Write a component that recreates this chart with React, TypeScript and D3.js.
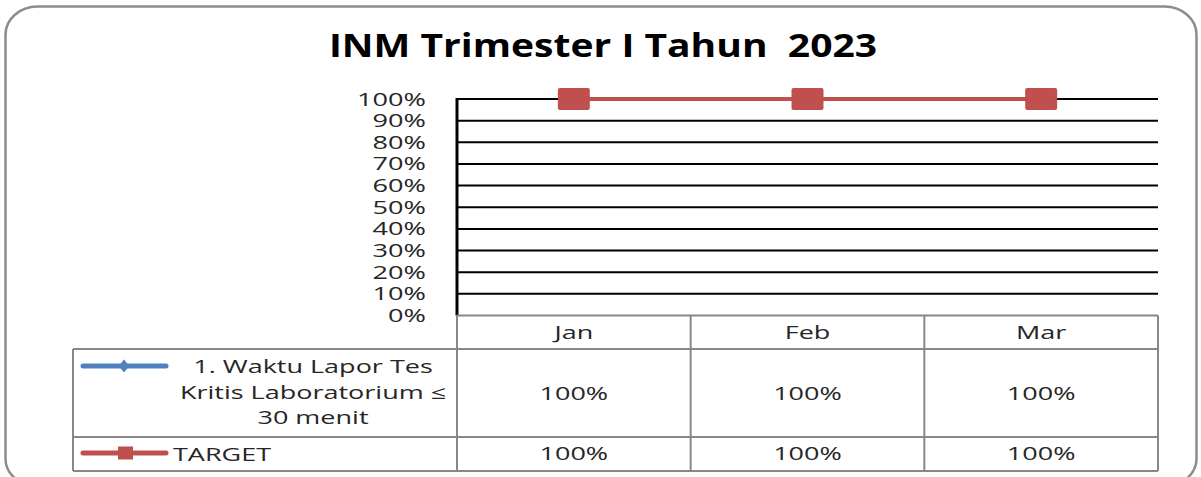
import React from "react";
import * as d3 from "d3";

const categories = ["Jan", "Feb", "Mar"];
const seriesWaktu = [1, 1, 1];
const seriesTarget = [1, 1, 1];
const seriesNames = ["1. Waktu Lapor Tes Kritis Laboratorium ≤ 30 menit", "TARGET"];
const waktuLabelLines = ["1. Waktu Lapor Tes", "Kritis Laboratorium ≤", "30 menit"];
const title = "INM Trimester I Tahun  2023";

const W = 1201;
const H = 477;
const plotLeft = 457;
const plotRight = 1158;
const plotTop = 99;
const plotBottom = 315.5;
const legendLeft = 73;
const row1Bottom = 349;
const row2Bottom = 437;
const row3Bottom = 471;

const BLUE = "#4F81BD";
const RED = "#C0504D";
const GRID = "#000";
const TABLE = "#878787";
const TXT = "#262626";
const FONT = "'Open Sans', 'DejaVu Sans', sans-serif";
const SX = 1.5;

function T({ x, y, children, anchor = "middle", size = 18, sx = SX, weight = 400, fill = TXT }: any) {
  return (
    <text
      transform={`translate(${x},${y}) scale(${sx},1)`}
      textAnchor={anchor}
      fontSize={size}
      fontWeight={weight}
      fill={fill}
      fontFamily={FONT}
      style={{ whiteSpace: "pre" }}
    >
      {children}
    </text>
  );
}

export default function App() {
  const x = d3.scaleBand<string>().domain(categories).range([plotLeft, plotRight]).padding(0);
  const y = d3.scaleLinear().domain([0, 1]).range([plotBottom, plotTop]);
  const cx = (c: string) => (x(c) as number) + x.bandwidth() / 2;
  const ticks = y.ticks(10);
  const fmt = d3.format(".0%");

  const line = d3
    .line<number>()
    .x((_, i) => cx(categories[i]))
    .y((d) => y(d));

  const colEdges = [plotLeft, ...categories.slice(1).map((c) => x(c) as number), plotRight];

  return (
    <svg width={W} height={H} style={{ position: "absolute", left: 0, top: 0 }}>
      <rect x={0} y={0} width={W} height={H} fill="#fff" />
      <rect x={5.5} y={6.5} width={1191} height={480} rx={32} ry={28} fill="#fff" stroke="#8c8c8c" strokeWidth={2.5} />

      <T x={603} y={57} size={32} weight={700} sx={1.22} fill="#000">
        {title}
      </T>

      {/* gridlines */}
      {ticks.filter((t) => t > 0).map((t) => (
        <line key={t} x1={plotLeft} x2={plotRight} y1={y(t)} y2={y(t)} stroke={GRID} strokeWidth={2} />
      ))}
      <line x1={plotLeft} x2={plotLeft} y1={plotTop - 1} y2={plotBottom} stroke="#000" strokeWidth={3} />

      {/* tick labels */}
      {ticks.map((t) => (
        <T key={t} x={426} y={y(t) + 6.5} anchor="end" size={17.5} sx={1.55}>
          {fmt(t)}
        </T>
      ))}

      {/* series */}
      <path d={line(seriesWaktu) || ""} fill="none" stroke={BLUE} strokeWidth={4} />
      {seriesWaktu.map((v, i) => (
        <path
          key={i}
          d={d3.symbol(d3.symbolDiamond, 90)() || ""}
          transform={`translate(${cx(categories[i])},${y(v)}) scale(1.5,1)`}
          fill={BLUE}
        />
      ))}
      <path d={line(seriesTarget) || ""} fill="none" stroke={RED} strokeWidth={4} />
      {seriesTarget.map((v, i) => (
        <rect key={i} x={cx(categories[i]) - 16} y={y(v) - 11} width={32} height={22} rx={2} fill={RED} />
      ))}

      {/* data table */}
      <g stroke={TABLE} strokeWidth={2} fill="none">
        <line x1={plotLeft} x2={plotRight} y1={plotBottom} y2={plotBottom} />
        <line x1={legendLeft} x2={plotRight} y1={row1Bottom} y2={row1Bottom} />
        <line x1={legendLeft} x2={plotRight} y1={row2Bottom} y2={row2Bottom} />
        <line x1={legendLeft} x2={plotRight} y1={row3Bottom} y2={row3Bottom} />
        <line x1={legendLeft} x2={legendLeft} y1={row1Bottom} y2={row3Bottom} />
        {colEdges.map((e, i) => (
          <line key={i} x1={e} x2={e} y1={plotBottom} y2={row3Bottom} />
        ))}
      </g>

      {categories.map((c) => (
        <T key={c} x={cx(c)} y={339} size={18}>
          {c}
        </T>
      ))}
      {seriesWaktu.map((v, i) => (
        <T key={i} x={cx(categories[i])} y={400} size={18}>
          {fmt(v)}
        </T>
      ))}
      {seriesTarget.map((v, i) => (
        <T key={i} x={cx(categories[i])} y={460} size={18}>
          {fmt(v)}
        </T>
      ))}

      {/* legend keys */}
      <g>
        <title>{seriesNames[0]}</title>
        <line x1={83} x2={166} y1={366} y2={366} stroke={BLUE} strokeWidth={5} strokeLinecap="round" />
        <path d={d3.symbol(d3.symbolDiamond, 50)() || ""} transform="translate(124,366) scale(1.4,1)" fill={BLUE} />
        {waktuLabelLines.map((l, i) => (
          <T key={i} x={313} y={373 + i * 25.5} size={18}>
            {l}
          </T>
        ))}
      </g>
      <g>
        <line x1={83} x2={166} y1={453} y2={453} stroke={RED} strokeWidth={5} strokeLinecap="round" />
        <rect x={118} y={446.5} width={15} height={13} fill={RED} />
        <T x={173} y={461} anchor="start" size={18}>
          {seriesNames[1]}
        </T>
      </g>
    </svg>
  );
}
